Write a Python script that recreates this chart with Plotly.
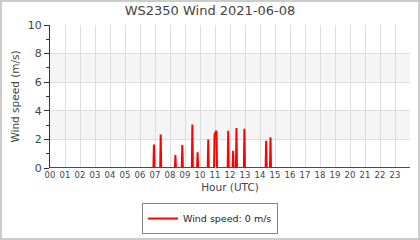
import plotly.graph_objects as go

# Spike centres (hour UTC) and peak wind speeds (m/s)
spike_hours = [6.93, 7.38, 8.36, 8.82, 9.49, 9.84, 10.55, 10.97, 11.04, 11.10,
               11.88, 12.21, 12.43, 12.96, 14.41, 14.70]
spike_peaks = [1.65, 2.35, 0.90, 1.60, 3.05, 1.10, 2.00, 2.35, 2.50, 2.60,
               2.60, 1.20, 2.80, 2.75, 1.90, 2.15]
tick_labels = ["%02d" % h for h in range(24)]

# Build the series: zero baseline, with each reading rising from and returning to zero
half = 0.035
times = [0.0]
speeds = [0.0]
i = 0
while i < len(spike_hours):
    j = i
    while j + 1 < len(spike_hours) and spike_hours[j + 1] - spike_hours[j] < 0.1:
        j += 1
    times.append(spike_hours[i] - half); speeds.append(0.0)
    for k in range(i, j + 1):
        times.append(spike_hours[k]); speeds.append(spike_peaks[k])
    times.append(spike_hours[j] + half); speeds.append(0.0)
    i = j + 1
times.append(24.0); speeds.append(0.0)

fig = go.Figure()
fig.add_trace(go.Scatter(x=times, y=speeds, mode="lines",
                         line=dict(color="#ff0000", width=2),
                         name="Wind speed: 0 m/s"))

for y0, y1 in [(2, 4), (6, 8)]:
    fig.add_shape(type="rect", xref="paper", yref="y", x0=0, x1=1, y0=y0, y1=y1,
                  fillcolor="#f5f5f5", line_width=0, layer="below")

L, R, T, B = 50, 10, 25, 72
pw, ph = 420 - L - R, 240 - T - B
fig.add_shape(type="rect", xref="paper", yref="paper",
              x0=(-L + 1) / pw, x1=1 + (R - 1) / pw,
              y0=(-B + 1) / ph, y1=1 + (T - 1) / ph,
              line=dict(color="#cccccc", width=2), fillcolor="rgba(0,0,0,0)")

fig.update_layout(
    width=420, height=240,
    margin=dict(l=L, r=R, t=T, b=B, autoexpand=False),
    paper_bgcolor="white", plot_bgcolor="white",
    font=dict(family="DejaVu Sans", color="#444444", size=9),
    title=dict(text="WS2350 Wind 2021-06-08", x=0.5, xanchor="center",
               y=0.955, yanchor="middle", font=dict(size=13, color="#444444")),
    showlegend=True,
    legend=dict(orientation="h", x=(210 - L) / pw, xanchor="center", y=-0.245, yanchor="top",
                bordercolor="#888888", borderwidth=1, font=dict(size=9.5, color="#222222"),
                itemwidth=30, tracegroupgap=0),
    xaxis=dict(range=[0, 24], tickmode="array", tickvals=list(range(24)),
               ticktext=tick_labels, showgrid=True, gridcolor="#dddddd",
               gridwidth=1, zeroline=False, ticks="", showline=False,
               tickfont=dict(size=8.5),
               title=dict(text="Hour (UTC)", font=dict(size=10.5), standoff=5)),
    yaxis=dict(range=[0, 10], dtick=2, showgrid=True, gridcolor="#dddddd",
               zeroline=False, showline=True, linecolor="#333333", linewidth=1,
               ticks="outside", ticklen=5, tickcolor="#333333",
               minor=dict(dtick=1, ticks="outside", ticklen=3, tickcolor="#333333",
                          showgrid=False),
               tickfont=dict(size=11),
               title=dict(text="Wind speed (m/s)", font=dict(size=10.5), standoff=6)),
)

fig.write_html("out.html")
